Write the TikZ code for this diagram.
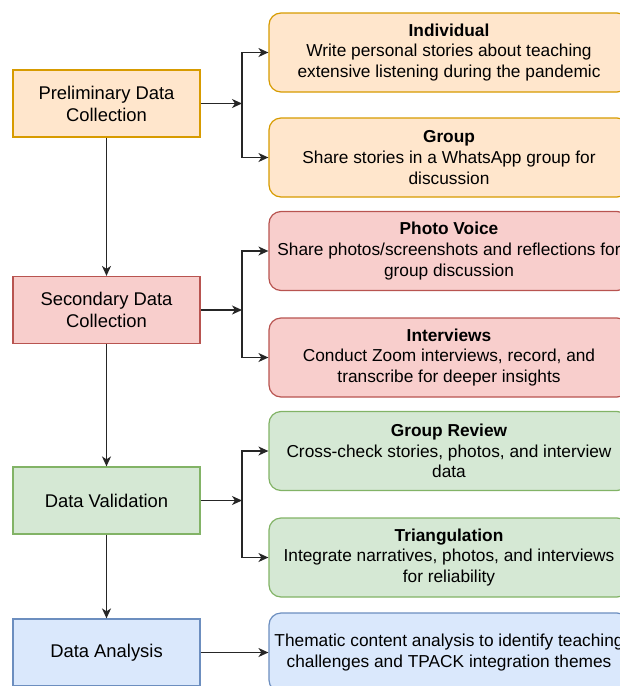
\documentclass[tikz,border=0pt]{standalone}
\usepackage{fontspec}
\setmainfont{Liberation Sans}
\usetikzlibrary{arrows.meta, positioning}
\definecolor{prelimfill}{HTML}{FFE6CC}
\definecolor{prelimline}{HTML}{D79B00}
\definecolor{secondfill}{HTML}{F8CECC}
\definecolor{secondline}{HTML}{B85450}
\definecolor{validfill}{HTML}{D5E8D4}
\definecolor{validline}{HTML}{82B366}
\definecolor{analysfill}{HTML}{DAE8FC}
\definecolor{analysline}{HTML}{6C8EBF}

\begin{document}
\begin{tikzpicture}[
    x=1pt, y=-1pt,
    phase/.style={rectangle, draw, line width=1.2pt, minimum width=187pt, minimum height=67pt,
                  align=center, font=\fontsize{18.4}{22}\selectfont},
    detail/.style={rectangle, rounded corners=12pt, draw, line width=1.2pt, minimum width=360pt,
                   minimum height=79pt, align=center, font=\fontsize{17.3}{20.8}\selectfont},
    arrow/.style={-{Stealth[length=10pt, width=9pt, inset=3pt]}, line width=1.5pt, draw=black!85}
]
\clip (0,0) rectangle (620,686);

% phases on the left
\node[phase, fill=prelimfill, draw=prelimline] (prelim) at (106.5,103.5) {Preliminary Data\\Collection};
\node[phase, fill=secondfill, draw=secondline] (second) at (106.5,310) {Secondary Data\\Collection};
\node[phase, fill=validfill, draw=validline] (valid) at (106.5,500.5) {Data Validation};
\node[phase, fill=analysfill, draw=analysline] (analys) at (106.5,652.5) {Data Analysis};

% details on the right
\node[detail, fill=prelimfill, draw=prelimline] (indiv) at (449,52.5)
    {\textbf{Individual}\\Write personal stories about teaching\\extensive listening during the pandemic};
\node[detail, fill=prelimfill, draw=prelimline] (group) at (449,157.5)
    {\textbf{Group}\\Share stories in a WhatsApp group for\\discussion};
\node[detail, fill=secondfill, draw=secondline] (photo) at (449,251)
    {\textbf{Photo Voice}\\Share photos/screenshots and reflections for\\group discussion};
\node[detail, fill=secondfill, draw=secondline] (interv) at (449,357.5)
    {\textbf{Interviews}\\Conduct Zoom interviews, record, and\\transcribe for deeper insights};
\node[detail, fill=validfill, draw=validline] (review) at (449,451)
    {\textbf{Group Review}\\Cross-check stories, photos, and interview\\data};
\node[detail, fill=validfill, draw=validline] (triang) at (449,557.5)
    {\textbf{Triangulation}\\Integrate narratives, photos, and interviews\\for reliability};
\node[detail, fill=analysfill, draw=analysline] (thematic) at (449,652.5)
    {Thematic content analysis to identify teaching\\challenges and TPACK integration themes};

% branch points
\coordinate (jprelim) at (242,103.5);
\coordinate (jsecond) at (242,310);
\coordinate (jvalid) at (242,500.5);

% main flow
\draw[arrow] (prelim) -- (second);
\draw[arrow] (second) -- (valid);
\draw[arrow] (valid) -- (analys);

% branches
\draw[arrow] (prelim) -- (jprelim);
\draw[arrow] (jprelim) |- (indiv);
\draw[arrow] (jprelim) |- (group);
\draw[arrow] (second) -- (jsecond);
\draw[arrow] (jsecond) |- (photo);
\draw[arrow] (jsecond) |- (interv);
\draw[arrow] (valid) -- (jvalid);
\draw[arrow] (jvalid) |- (review);
\draw[arrow] (jvalid) |- (triang);
\draw[arrow] (analys) -- (thematic);

\end{tikzpicture}
\end{document}
